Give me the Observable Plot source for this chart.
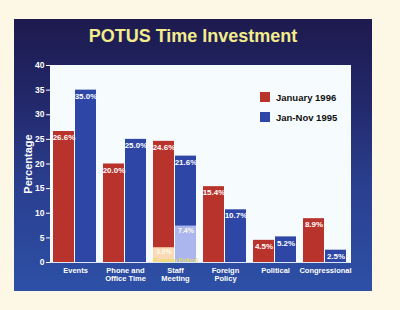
<!DOCTYPE html>
<html>
<head>
<meta charset="utf-8">
<script src="https://cdn.jsdelivr.net/npm/d3@7"></script>
<script src="https://cdn.jsdelivr.net/npm/@observablehq/plot@0.6"></script>
<style>
  html, body { margin: 0; padding: 0; background: #fdf8e6; }
  #wrap { position: relative; width: 400px; height: 310px; overflow: hidden; background: #fdf8e6; font-family: "Liberation Sans", Arial, sans-serif; }
  #panel { position: absolute; left: 14px; top: 19px; width: 358px; height: 272px;
    background: linear-gradient(to bottom, #1d1a4e 0%, #22286a 30%, #2a3e8e 60%, #2d50a6 100%); }
  #title { position: absolute; left: 14px; width: 358px; top: 26px; text-align: center;
    color: #f2ec8c; font-weight: bold; font-size: 18px; letter-spacing: 0px; }
  #chart { position: absolute; left: 0; top: 0; }
  #legend { position: absolute; left: 260px; top: 92px; font-weight: bold; font-size: 9.5px; color: #111; }
  .item { display: flex; align-items: center; height: 10px; margin-bottom: 10px; }
  .sw { width: 10px; height: 10px; margin-right: 6px; }
</style>
</head>
<body>
<div id="wrap">
  <div id="panel"></div>
  <div id="title">POTUS Time Investment</div>
  <div id="chart"></div>
  <div id="legend"></div>
</div>
<script>
const categories = ["Events", "Phone and Office Time", "Staff Meeting", "Foreign Policy", "Political", "Congressional"];
const categoryLabels = ["Events", "Phone and\nOffice Time", "Staff\nMeeting", "Foreign\nPolicy", "Political", "Congressional"];
const series = ["January 1996", "Jan-Nov 1995"];
const seriesColors = ["#b8332b", "#2e47a6"];
const jan1996 = [26.6, 20.0, 24.6, 15.4, 4.5, 8.9];
const janNov1995 = [35.0, 25.0, 21.6, 10.7, 5.2, 2.5];
// Foreign-policy share inside the Staff Meeting bars
const staffForeignCategory = "Staff Meeting";
const staffForeign = [3.0, 7.4];
const staffForeignColors = ["#f9d9b6", "#abb6ee"];
const staffForeignNote = "(Foreign Policy)";

const rows = [];
categories.forEach((c, i) => {
  rows.push({category: c, series: series[0], value: jan1996[i]});
  rows.push({category: c, series: series[1], value: janNov1995[i]});
});
const subRows = series.map((s, i) => ({category: staffForeignCategory, series: s, value: staffForeign[i], color: staffForeignColors[i]}));
const labelOf = new Map(categories.map((c, i) => [c, categoryLabels[i]]));

const plot = Plot.plot({
  width: 400,
  height: 310,
  marginLeft: 47,
  marginRight: 48,
  marginTop: 65,
  marginBottom: 48,
  style: {background: "transparent", fontFamily: "Liberation Sans, Arial, sans-serif", overflow: "visible"},
  fx: {domain: categories, paddingInner: 0, paddingOuter: 0, axis: null},
  x: {domain: series, paddingInner: 0.045, paddingOuter: 0.125, axis: null},
  y: {domain: [0, 40], axis: null},
  color: {domain: series, range: seriesColors},
  marks: [
    Plot.frame({fill: "#f6fbfe", stroke: "#f6fbfe", strokeWidth: 1}),
    Plot.barY(rows, {fx: "category", x: "series", y: "value", fill: "series"}),
    Plot.barY(subRows, {fx: "category", x: "series", y: "value", fill: d => d.color}),
    Plot.text(rows, {fx: "category", x: "series", y: "value", text: d => d.value.toFixed(1) + "%",
      lineAnchor: "top", dy: 3, fill: "white", fontWeight: "bold", fontSize: 8}),
    Plot.text(subRows, {fx: "category", x: "series", y: "value", text: d => d.value.toFixed(1) + "%",
      lineAnchor: "top", dy: 1.5, fill: "#fffbe8", fontWeight: "bold", fontSize: 7}),
    Plot.text([staffForeignNote], {fx: () => staffForeignCategory, y: () => 0, text: d => d,
      lineAnchor: "bottom", dy: -1, fill: "#e6dd5a", fontWeight: "bold", fontSize: 6}),
    Plot.ruleY([0], {stroke: "#dfe6f2"}),
    Plot.axisY({ticks: d3.range(0, 41, 5), tickSize: 4, tickPadding: 2, color: "white",
      fontSize: 8.5, fontWeight: "bold", label: "Percentage", labelAnchor: "center",
      labelArrow: "none", labelOffset: 26}),
    Plot.axisFx({anchor: "bottom", tickSize: 0, tickPadding: 5, color: "white",
      fontSize: 7.5, fontWeight: "bold", tickFormat: d => labelOf.get(d), label: null, lineHeight: 1.05})
  ]
});
document.getElementById("chart").appendChild(plot);
plot.querySelectorAll("[aria-label='y-axis label'] text, [aria-label='y-axis label']").forEach(el => {
  el.setAttribute("font-size", "11");
  el.setAttribute("font-weight", "bold");
  el.setAttribute("fill", "white");
});

const legend = document.getElementById("legend");
series.forEach((s, i) => {
  const it = document.createElement("div");
  it.className = "item";
  it.innerHTML = `<div class="sw" style="background:${seriesColors[i]}"></div><span>${s}</span>`;
  legend.appendChild(it);
});
</script>
</body>
</html>
